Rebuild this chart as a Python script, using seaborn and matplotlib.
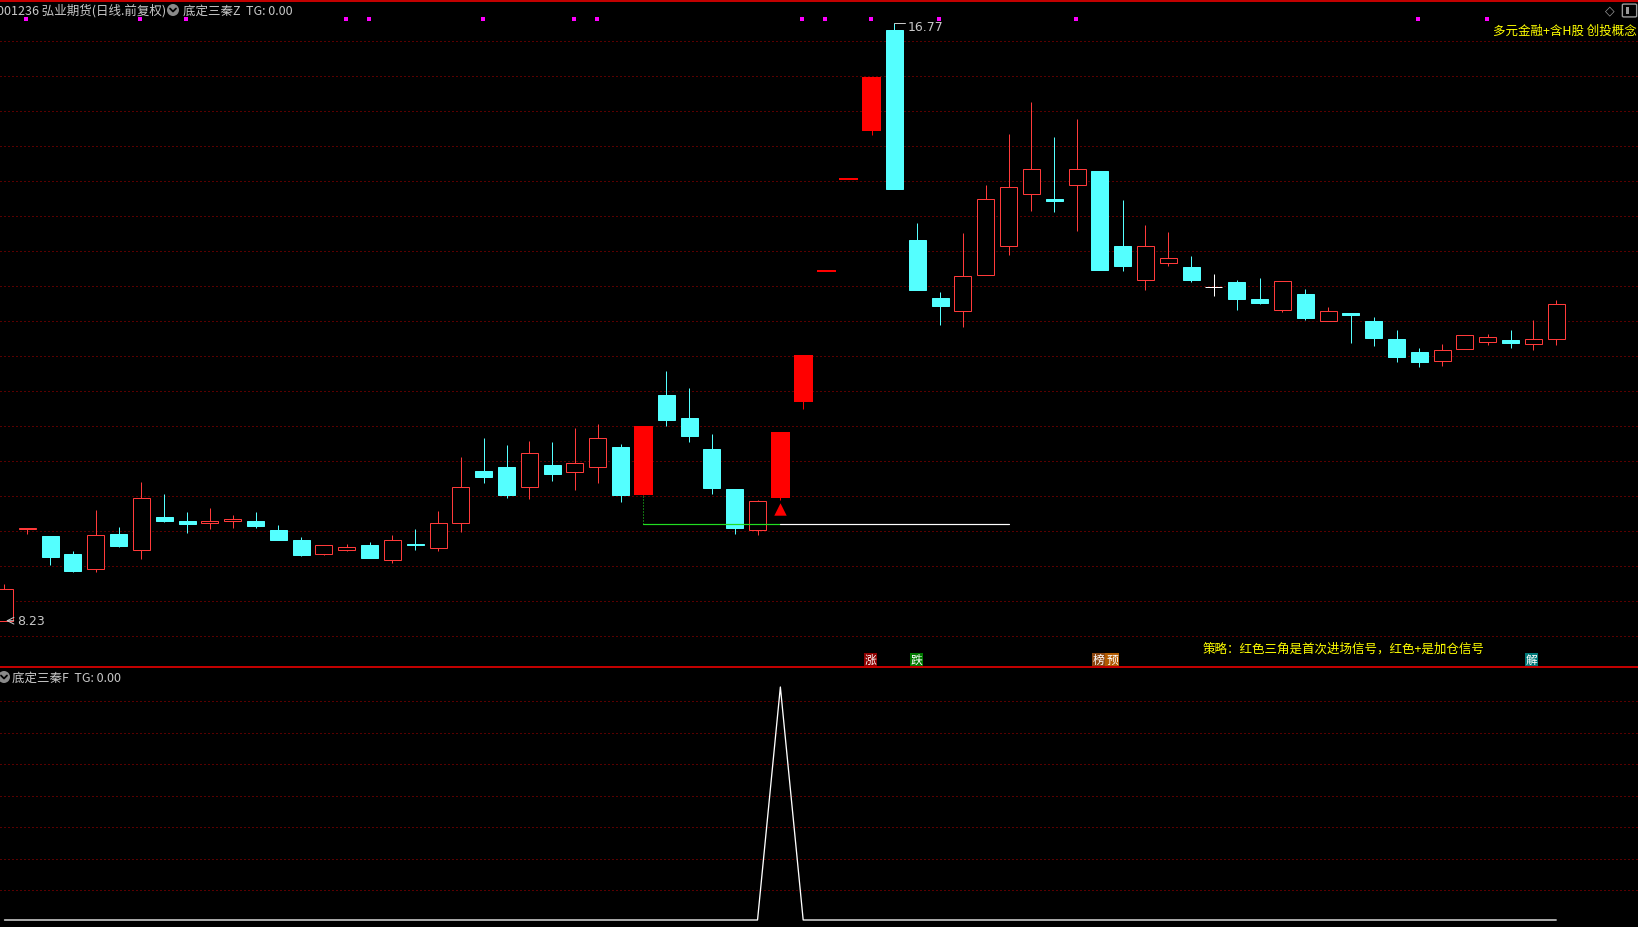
import numpy as np
import pandas as pd
import matplotlib
matplotlib.use("Agg")
import matplotlib.pyplot as plt
import seaborn as sns
from matplotlib.patches import Rectangle, Ellipse, FancyBboxPatch
from matplotlib.lines import Line2D

# ---------------- data ----------------
opens = [8.23, 9.54, 9.44, 9.18, 8.97, 9.47, 9.24, 9.71, 9.65, 9.62,
         9.66, 9.65, 9.53, 9.38, 9.19, 9.24, 9.31, 9.10, 9.32, 9.27,
         9.62, 10.37, 10.43, 10.14, 10.45, 10.36, 10.42, 10.71, 10.02, 11.45,
         11.13, 10.68, 10.11, 9.52, 9.98, 11.35, 13.22, 14.54, 15.23, 16.67,
         13.67, 12.84, 12.66, 13.17, 13.59, 14.32, 14.25, 14.46, 14.65, 13.58,
         13.10, 13.34, 13.28, 13.00, 13.07, 12.82, 12.67, 12.90, 12.51, 12.63,
         12.51, 12.25, 12.07, 11.94, 12.11, 12.21, 12.24, 12.18, 12.25]
closes = [8.68, 9.55, 9.14, 8.94, 9.46, 9.30, 9.99, 9.65, 9.61, 9.65,
          9.68, 9.59, 9.39, 9.17, 9.31, 9.28, 9.12, 9.38, 9.31, 9.62,
          10.14, 10.29, 10.03, 10.62, 10.32, 10.48, 10.84, 10.02, 11.01, 11.10,
          10.87, 10.13, 9.56, 9.94, 10.93, 12.03, 13.22, 14.54, 16.00, 14.40,
          12.96, 12.72, 13.16, 14.25, 14.42, 14.69, 14.23, 14.69, 13.24, 13.30,
          13.59, 13.41, 13.10, 13.00, 12.83, 12.77, 13.09, 12.56, 12.65, 12.60,
          12.27, 12.00, 11.93, 12.10, 12.31, 12.29, 12.20, 12.25, 12.76]
highs = [8.75, 9.55, 9.44, 9.23, 9.81, 9.57, 10.21, 10.04, 9.78, 9.84,
         9.74, 9.78, 9.60, 9.42, 9.31, 9.33, 9.35, 9.45, 9.54, 9.80,
         10.57, 10.84, 10.74, 10.80, 10.78, 10.98, 11.04, 10.75, 11.01, 11.80,
         11.55, 10.90, 10.11, 9.95, 10.93, 12.03, 13.22, 14.54, 16.00, 16.77,
         13.91, 12.93, 13.77, 14.45, 15.18, 15.64, 15.14, 15.40, 14.66, 14.24,
         13.88, 13.78, 13.44, 13.18, 13.10, 13.13, 13.09, 12.97, 12.71, 12.63,
         12.57, 12.38, 12.13, 12.18, 12.31, 12.33, 12.38, 12.53, 12.81]
lows = [8.23, 9.47, 9.03, 8.92, 8.92, 9.28, 9.11, 9.64, 9.48, 9.54,
        9.55, 9.55, 9.39, 9.16, 9.17, 9.22, 9.12, 9.06, 9.24, 9.23,
        9.50, 10.20, 9.99, 9.97, 10.23, 10.10, 10.20, 9.92, 10.02, 11.01,
        10.79, 10.04, 9.47, 9.46, 9.95, 11.25, 13.22, 14.54, 15.17, 14.40,
        12.96, 12.46, 12.42, 13.17, 13.46, 14.09, 14.07, 13.80, 13.24, 13.22,
        12.96, 13.30, 13.07, 12.87, 12.67, 12.75, 12.64, 12.53, 12.51, 12.20,
        12.16, 11.93, 11.86, 11.87, 12.11, 12.17, 12.13, 12.10, 12.17]
limit_up = [28, 34, 35, 36, 37, 38]
signal_dots = [1, 6, 8, 15, 16, 21, 25, 26, 35, 36, 38, 41, 47, 62, 65]
indicator = [0, 0, 0, 0, 0, 0, 0, 0, 0, 0,
             0, 0, 0, 0, 0, 0, 0, 0, 0, 0,
             0, 0, 0, 0, 0, 0, 0, 0, 0, 0,
             0, 0, 0, 0, 1, 0, 0, 0, 0, 0,
             0, 0, 0, 0, 0, 0, 0, 0, 0, 0,
             0, 0, 0, 0, 0, 0, 0, 0, 0, 0,
             0, 0, 0, 0, 0, 0, 0, 0, 0]
entry_idx = 34
support_start, support_end = 28, 44
support_level = 9.61
high_label, low_label = "16.77", "8.23"
title_text = "001236 弘业期货(日线.前复权)"
main_ind_text = "底定三秦Z  TG: 0.00"
sub_ind_text = "底定三秦F  TG: 0.00"
concept_text = "多元金融+含H股 创投概念"
strategy_text = "策略：红色三角是首次进场信号，红色+是加仓信号"
badges = [("涨", 870.7, "#8c0000"), ("跌", 916.7, "#007a00"),
          ("榜", 1098.7, "#8a4510"), ("预", 1112.0, "#b05a00"),
          ("解", 1531.5, "#007878")]

# ---------------- style ----------------
sns.set_theme(style="dark")
plt.rcParams['font.family'] = ['Noto Sans CJK SC', 'DejaVu Sans']
plt.rcParams['axes.unicode_minus'] = False

W, H = 1638, 928
PX = 0.72
fig = plt.figure(figsize=(W / 100, H / 100), dpi=100, facecolor='black')

def fx(x):
    return x / W

def fy(y):
    return 1 - y / H

main_bot = 667.7
ax = fig.add_axes([0, fy(main_bot), 1, main_bot / H])
ax2 = fig.add_axes([0, 0, 1, fy(main_bot)])
for a in (ax, ax2):
    a.set_facecolor('black')
    a.set_xticks([]); a.set_yticks([])
    for s in a.spines.values():
        s.set_visible(False)
    a.grid(False)

x0, dx = 4.48, 22.82
ax.set_xlim(-x0 / dx, (W - x0) / dx)
ax2.set_xlim(-x0 / dx, (W - x0) / dx)
ppu = 70.0
ax.set_ylim(8.23 - (main_bot - 621.7) / ppu, 8.23 + 621.7 / ppu)
ax2.set_ylim(-(H - 921) / 233.0, 1 + (688 - main_bot) / 233.0)

def py2price(y):
    return 8.23 + (621.7 - y) / ppu

GRID = '#b00000'
for k in range(1, 19):
    ax.axhline(py2price(6.7 + 35 * k), color=GRID, lw=PX, ls=(0, (1, 3)), zorder=1)
for yy in [702, 733.5, 765, 796.5, 828, 859.5, 891]:
    ax2.axhline((921 - yy) / 233.0, color=GRID, lw=PX, ls=(0, (1, 3)), zorder=1)

RED = '#ff3a3a'
FRED = '#ff0000'
CYAN = '#54ffff'
n = len(opens)
bw = 17 / dx
lw_ = 19 / dx
for i in range(n):
    o, c, h, l = opens[i], closes[i], highs[i], lows[i]
    if i in limit_up:
        if h == l:
            ax.hlines(o, i - lw_ / 2, i + lw_ / 2, color=FRED, lw=2 * PX, zorder=3)
            continue
        ax.vlines(i, l, h, color=FRED, lw=PX, zorder=2)
        ax.add_patch(Rectangle((i - lw_ / 2, min(o, c)), lw_, abs(c - o), facecolor=FRED,
                               edgecolor=FRED, lw=0, zorder=3))
        continue
    if o == c:
        ax.vlines(i, l, h, color='white', lw=PX, zorder=2)
        ax.hlines(o, i - bw / 2, i + bw / 2, color='white', lw=PX, zorder=3)
        continue
    if c > o:
        ax.vlines(i, l, h, color=RED, lw=PX, zorder=2)
        ax.add_patch(Rectangle((i - bw / 2, o), bw, c - o, facecolor='black',
                               edgecolor=RED, lw=PX, zorder=3))
    else:
        ax.vlines(i, l, h, color=CYAN, lw=PX, zorder=2)
        ax.add_patch(Rectangle((i - bw / 2, c), bw, o - c, facecolor=CYAN,
                               edgecolor=CYAN, lw=PX, zorder=3))

# support lines
sup = pd.DataFrame({"x": [support_start, entry_idx], "y": [support_level, support_level]})
sns.lineplot(data=sup, x="x", y="y", ax=ax, color='#22dd22', lw=PX * 1.2, zorder=4)
sup2 = pd.DataFrame({"x": [entry_idx, support_end], "y": [support_level, support_level]})
sns.lineplot(data=sup2, x="x", y="y", ax=ax, color='white', lw=PX * 1.2, zorder=4)
ax.vlines(support_start, support_level, opens[support_start], color='#22dd22', lw=PX,
          ls=(0, (1, 2)), zorder=4)

# entry triangle
tri = pd.DataFrame({"x": [entry_idx], "y": [py2price(509.5)]})
sns.scatterplot(data=tri, x="x", y="y", ax=ax, marker='^', s=80, color=FRED,
                edgecolor=FRED, linewidth=0, zorder=5)

# magenta signal dots
dots = pd.DataFrame({"x": [i - 0.04 for i in signal_dots], "y": [py2price(20.3)] * len(signal_dots)})
sns.scatterplot(data=dots, x="x", y="y", ax=ax, marker='s', s=9, color='#ff00ff',
                linewidth=0, zorder=5, clip_on=False)

# indicator panel
ind = pd.DataFrame({"x": np.arange(n), "y": indicator})
sns.lineplot(data=ind, x="x", y="y", ax=ax2, color='white', lw=PX * 1.3, zorder=3)
for a in (ax, ax2):
    a.set_xlabel(''); a.set_ylabel('')
    leg = a.get_legend()
    if leg:
        leg.remove()

# high / low labels
hi_i = int(np.argmax(highs)); lo_i = int(np.argmin(lows))
ax.plot([hi_i, hi_i + 11 / dx], [highs[hi_i], highs[hi_i]], color='#c8c8c8', lw=PX, zorder=6)
ax.text(hi_i + 13 / dx, py2price(27), high_label, color='#c8c8c8', fontsize=9,
        va='center', ha='left', family=['DejaVu Sans'])
ax.annotate('', xy=(lo_i - 0.05, lows[lo_i]), xytext=(lo_i + 12 / dx, lows[lo_i]),
            arrowprops=dict(arrowstyle='->', color='#c8c8c8', lw=PX), zorder=6)
ax.text(lo_i + 13 / dx, lows[lo_i], low_label, color='#c8c8c8', fontsize=9,
        va='center', ha='left', family=['DejaVu Sans'])

# frame lines
fig.add_artist(Line2D([0, 1], [fy(1.5), fy(1.5)], color='#c80000', lw=1.4))
fig.add_artist(Line2D([0, 1], [fy(main_bot), fy(main_bot)], color='#c80000', lw=1.4))

GRAY = '#c8c8c8'
fig.text(fx(-3), fy(11), title_text, color=GRAY, fontsize=9, va='center', ha='left')
for cx, cy in [(173, 11), (4, 678)]:
    fig.add_artist(Ellipse((fx(cx), fy(cy)), 12 / W, 12 / H, transform=fig.transFigure,
                           facecolor='#8a8a8a', edgecolor='none'))
    fig.add_artist(Line2D([fx(cx - 3), fx(cx), fx(cx + 3)], [fy(cy - 1.5), fy(cy + 1.5), fy(cy - 1.5)],
                          color='black', lw=1.3))
fig.text(fx(183), fy(11), main_ind_text, color=GRAY, fontsize=9, va='center', ha='left')
fig.text(fx(12), fy(678), sub_ind_text, color=GRAY, fontsize=9, va='center', ha='left')
fig.text(fx(1637), fy(31), concept_text, color='#ffff00', fontsize=9, va='center', ha='right')
fig.text(fx(1203), fy(649), strategy_text, color='#ffff00', fontsize=9, va='center', ha='left')

fig.text(fx(1610), fy(11), "◇", color='#9a9a9a', fontsize=9, va='center', ha='center',
         family=['DejaVu Sans'])
fig.add_artist(FancyBboxPatch((fx(1624), fy(17)), 11 / W, 11 / H, boxstyle="round,pad=0.001",
                              transform=fig.transFigure, facecolor='none', edgecolor='#9a9a9a', lw=1))
fig.add_artist(Rectangle((fx(1626), fy(15)), 3 / W, 7 / H, transform=fig.transFigure,
                         facecolor='#9a9a9a', edgecolor='none'))

for ch, cx, col in badges:
    fig.add_artist(Rectangle((fx(cx - 6.7), fy(666.7)), 13.4 / W, 13 / H, transform=fig.transFigure,
                             facecolor=col, edgecolor='none'))
    fig.text(fx(cx), fy(660.5), ch, color='white', fontsize=8.5, ha='center', va='center')

fig.savefig("out.png", dpi=100, facecolor='black')
